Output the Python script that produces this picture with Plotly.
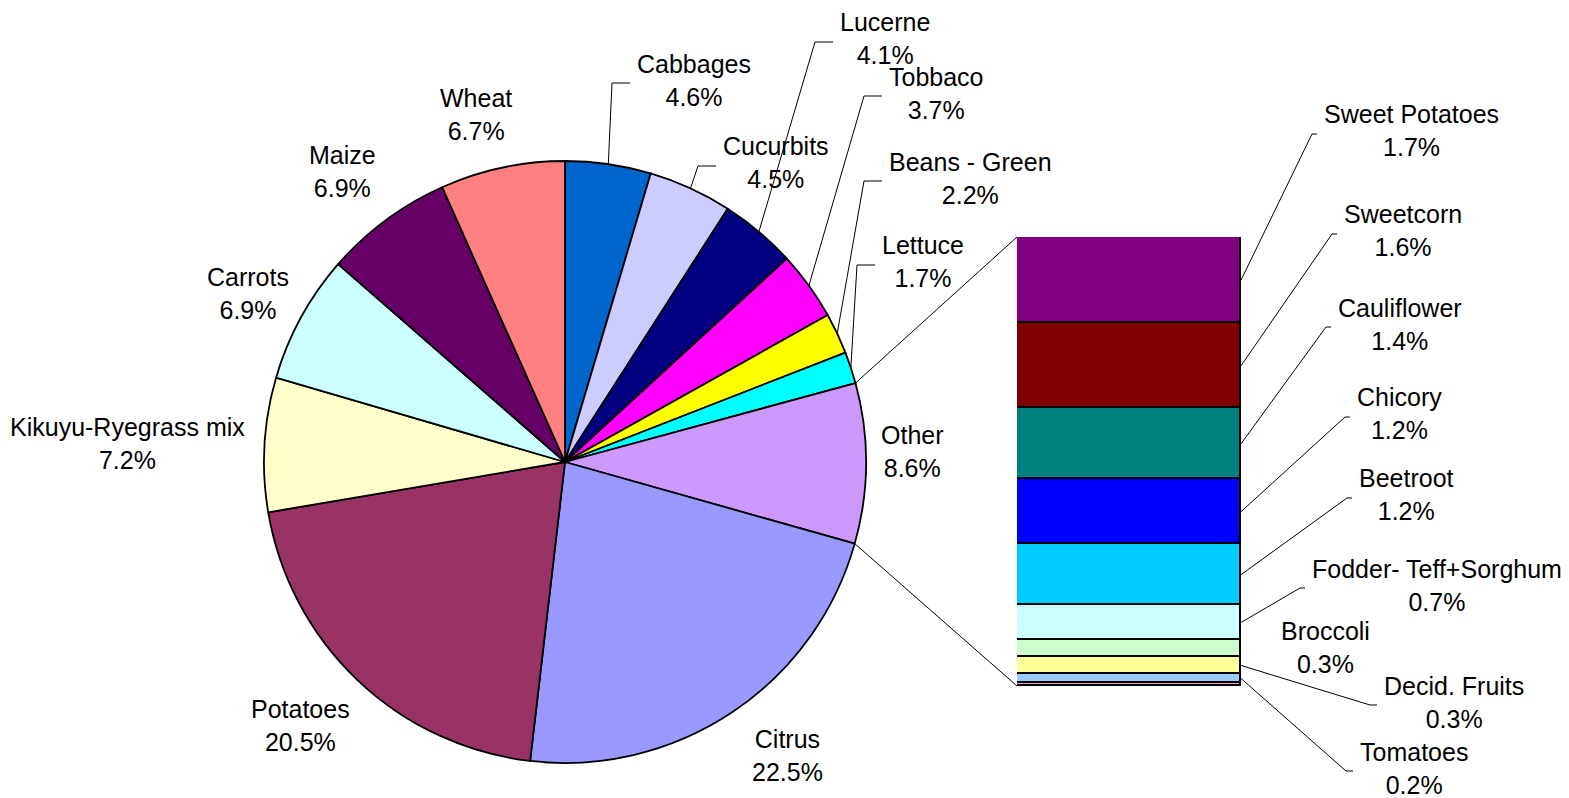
import math
import plotly.graph_objects as go

# ---------------- data ----------------
pie_labels = ["Cabbages", "Cucurbits", "Lucerne", "Tobbaco", "Beans - Green", "Lettuce",
              "Other", "Citrus", "Potatoes", "Kikuyu-Ryegrass mix", "Carrots", "Maize", "Wheat"]
pie_values = [4.6, 4.5, 4.1, 3.7, 2.2, 1.7, 8.6, 22.5, 20.5, 7.2, 6.9, 6.9, 6.7]
pie_colors = ["#0066CC", "#CCCCFF", "#000080", "#FF00FF", "#FFFF00", "#00FFFF",
              "#CC99FF", "#9999FF", "#993366", "#FFFFCC", "#CCFFFF", "#660066", "#FF8080"]

other_labels = ["Sweet Potatoes", "Sweetcorn", "Cauliflower", "Chicory", "Beetroot",
                "Fodder- Teff+Sorghum", "Broccoli", "Decid. Fruits", "Tomatoes", "Remainder"]
other_values = [1.66, 1.63, 1.37, 1.24, 1.18, 0.66, 0.33, 0.33, 0.17, 0.06]
other_colors = ["#800080", "#800000", "#008080", "#0000FF", "#00CCFF",
                "#CCFFFF", "#CCFFCC", "#FFFF99", "#99CCFF", "#FF99CC"]

# ---------------- layout (page pixels) ----------------
PAGE_W, PAGE_H = 1569, 798
OFF = 8                      # default page margin around the plot div
W, H = PAGE_W - OFF, PAGE_H - OFF
PIE_CX, PIE_CY, PIE_R = 565, 462, 301
BAR_L, BAR_R, BAR_T, BAR_B = 1017, 1241, 237, 686
FONT = dict(family="Liberation Sans, Arial, sans-serif", size=25, color="black")

# label placement: x, y(mid), anchor, leader elbow gap (None = no leader)
pie_label_pos = {
    "Cabbages": (635, 80, "left", 23),
    "Cucurbits": (721, 163, "left", 23),
    "Lucerne": (838, 39, "left", 23),
    "Tobbaco": (887, 93, "left", 23),
    "Beans - Green": (887, 178, "left", 23),
    "Lettuce": (880, 262, "left", 23),
    "Other": (913, 451, "center", None),
    "Citrus": (787, 755, "center", None),
    "Potatoes": (300, 725, "center", None),
    "Kikuyu-Ryegrass mix": (127, 443, "center", None),
    "Carrots": (248, 294, "center", None),
    "Maize": (342, 171, "center", None),
    "Wheat": (476, 114, "center", None),
}
bar_label_pos = {
    "Sweet Potatoes": (1322, 131, "left", 10),
    "Sweetcorn": (1342, 231, "left", 10),
    "Cauliflower": (1336, 324, "left", 10),
    "Chicory": (1355, 414, "left", 10),
    "Beetroot": (1357, 495, "left", 10),
    "Fodder- Teff+Sorghum": (1310, 585, "left", 10),
    "Broccoli": (1325, 647, "center", None),
    "Decid. Fruits": (1382, 702, "left", 12),
    "Tomatoes": (1358, 768, "left", 12),
}


def px(x):
    return (x - OFF) / W


def py(y):
    return 1 - (y - OFF) / H


def pie_edge(frac):
    th = 2 * math.pi * frac
    return PIE_CX + PIE_R * math.sin(th), PIE_CY - PIE_R * math.cos(th)


fig = go.Figure()

fig.add_trace(go.Pie(
    labels=pie_labels, values=pie_values, sort=False, direction="clockwise", rotation=0,
    textinfo="none", showlegend=False, hoverinfo="label+value",
    marker=dict(colors=pie_colors, line=dict(color="black", width=1.8)),
    domain=dict(x=[px(PIE_CX - PIE_R), px(PIE_CX + PIE_R)],
                y=[py(PIE_CY + PIE_R), py(PIE_CY - PIE_R)]),
))

# stacked bar: bottom segment first
for lab, val, col in reversed(list(zip(other_labels, other_values, other_colors))):
    fig.add_trace(go.Bar(
        x=[0], y=[val], width=1, name=lab, showlegend=False, cliponaxis=False,
        marker=dict(color=col, line=dict(color="black", width=1.8)),
        hoverinfo="name+y",
    ))

annotations = []
shapes = []


def add_label(text, pos, attach):
    x, y, anchor, gap = pos
    annotations.append(dict(
        text=text, x=px(x), y=py(y), xref="paper", yref="paper",
        xanchor=anchor, yanchor="middle", align="center", showarrow=False, font=FONT,
    ))
    if gap is not None and attach is not None:
        ax, ay = attach
        ly = y + 3
        shapes.append(dict(
            type="path", xref="paper", yref="paper",
            path=f"M {px(ax)},{py(ay)} L {px(x - gap)},{py(ly)} L {px(x - 5)},{py(ly)}",
            line=dict(color="black", width=1),
        ))


total = sum(pie_values)
cum = 0.0
other_start = other_end = None
for lab, val in zip(pie_labels, pie_values):
    mid = (cum + val / 2) / total
    if lab == "Other":
        other_start, other_end = cum / total, (cum + val) / total
    add_label(f"{lab}<br>{val:.1f}%", pie_label_pos[lab], pie_edge(mid))
    cum += val

bar_total = sum(other_values)
cum = 0.0
for lab, val in reversed(list(zip(other_labels, other_values))):
    ymid = BAR_B - (cum + val / 2) / bar_total * (BAR_B - BAR_T)
    if lab in bar_label_pos:
        add_label(f"{lab}<br>{val:.1f}%", bar_label_pos[lab], (BAR_R, ymid))
    cum += val

# connector lines between the "Other" slice and the bar
for frac, by in ((other_start, BAR_T), (other_end, BAR_B)):
    ex, ey = pie_edge(frac)
    shapes.append(dict(type="line", xref="paper", yref="paper",
                       x0=px(ex), y0=py(ey), x1=px(BAR_L), y1=py(by),
                       line=dict(color="black", width=1)))

fig.update_layout(
    width=W, height=H, margin=dict(l=0, r=0, t=0, b=0),
    paper_bgcolor="white", plot_bgcolor="white",
    barmode="stack", bargap=0,
    xaxis=dict(domain=[px(BAR_L), px(BAR_R)], range=[-0.5, 0.5], visible=False, fixedrange=True),
    yaxis=dict(domain=[py(BAR_B), py(BAR_T)], range=[0, bar_total], visible=False, fixedrange=True),
    annotations=annotations, shapes=shapes,
)

fig.write_html("out.html")
